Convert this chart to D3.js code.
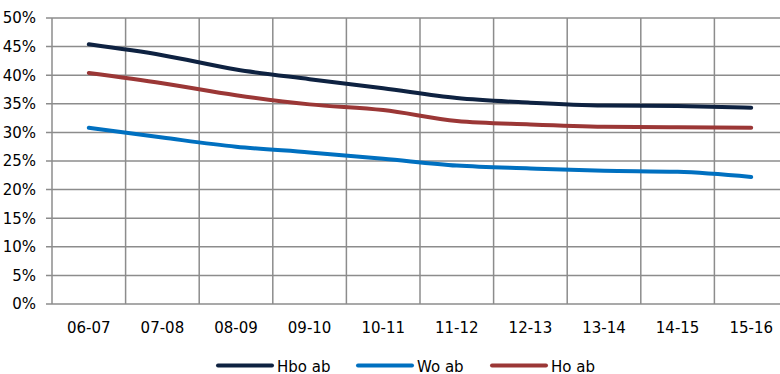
<!DOCTYPE html>
<html><head><meta charset="utf-8">
<script src="https://cdn.jsdelivr.net/npm/d3@7"></script>
<style>body{margin:0;background:#fff}svg{display:block}text{font-family:"DejaVu Sans",sans-serif;fill:#000}</style>
</head><body><svg id="c" width="780" height="374"></svg>
<script>
const categories = ["06-07","07-08","08-09","09-10","10-11","11-12","12-13","13-14","14-15","15-16"];
const hboAb = [45.4, 43.5, 41.0, 39.3, 37.7, 36.0, 35.2, 34.7, 34.6, 34.3];
const woAb  = [30.8, 29.1, 27.5, 26.5, 25.4, 24.2, 23.7, 23.3, 23.1, 22.2];
const hoAb  = [40.4, 38.6, 36.5, 34.9, 33.9, 32.0, 31.4, 31.0, 30.9, 30.8];
const yTicks = [0,5,10,15,20,25,30,35,40,45,50];
const seriesNames = ["Hbo ab","Wo ab","Ho ab"];
const seriesColors = ["#0e2241","#0070c0","#9b3736"];
const seriesData = [hboAb, woAb, hoAb];

const svg = d3.select("#c");
const L = 52, R = 788, T = 18, B = 304;
const x = d3.scaleBand().domain(categories).range([L, R]);
const y = d3.scaleLinear().domain([0, 50]).range([B, T]);
const grid = "#8c8c8c";

// horizontal grid
svg.append("g").selectAll("line").data(yTicks).join("line")
  .attr("x1", L - 6).attr("x2", 780).attr("y1", d => y(d)).attr("y2", d => y(d))
  .attr("stroke", grid).attr("stroke-width", 1.5);
// vertical grid
const bounds = categories.map(c => x(c)).concat([x(categories[categories.length-1]) + x.bandwidth()]);
svg.append("g").selectAll("line").data(bounds).join("line")
  .attr("x1", d => d).attr("x2", d => d).attr("y1", T).attr("y2", B)
  .attr("stroke", grid).attr("stroke-width", 1.5);

// y labels
svg.append("g").selectAll("text").data(yTicks).join("text")
  .attr("x", 36).attr("y", d => y(d)).attr("dy", "0.36em").attr("text-anchor", "end")
  .attr("font-size", 15).text(d => d + "%");
// x labels
svg.append("g").selectAll("text").data(categories).join("text")
  .attr("x", d => x(d) + x.bandwidth()/2).attr("y", 333).attr("text-anchor", "middle")
  .attr("font-size", 15).text(d => d);

// lines
const line = d3.line().x((d,i) => x(categories[i]) + x.bandwidth()/2).y(d => y(d)).curve(d3.curveMonotoneX);
seriesData.forEach((s, k) => {
  svg.append("path").datum(s).attr("d", line).attr("fill", "none")
    .attr("stroke", seriesColors[k]).attr("stroke-width", 4).attr("stroke-linecap", "round");
});

// legend
const legX = [218, 358, 492];
seriesNames.forEach((n, k) => {
  svg.append("line").attr("x1", legX[k]).attr("x2", legX[k] + 54).attr("y1", 365.5).attr("y2", 365.5)
    .attr("stroke", seriesColors[k]).attr("stroke-width", 4).attr("stroke-linecap", "round");
  svg.append("text").attr("x", legX[k] + 59).attr("y", 371.5).attr("font-size", 15).text(n);
});
</script></body></html>
